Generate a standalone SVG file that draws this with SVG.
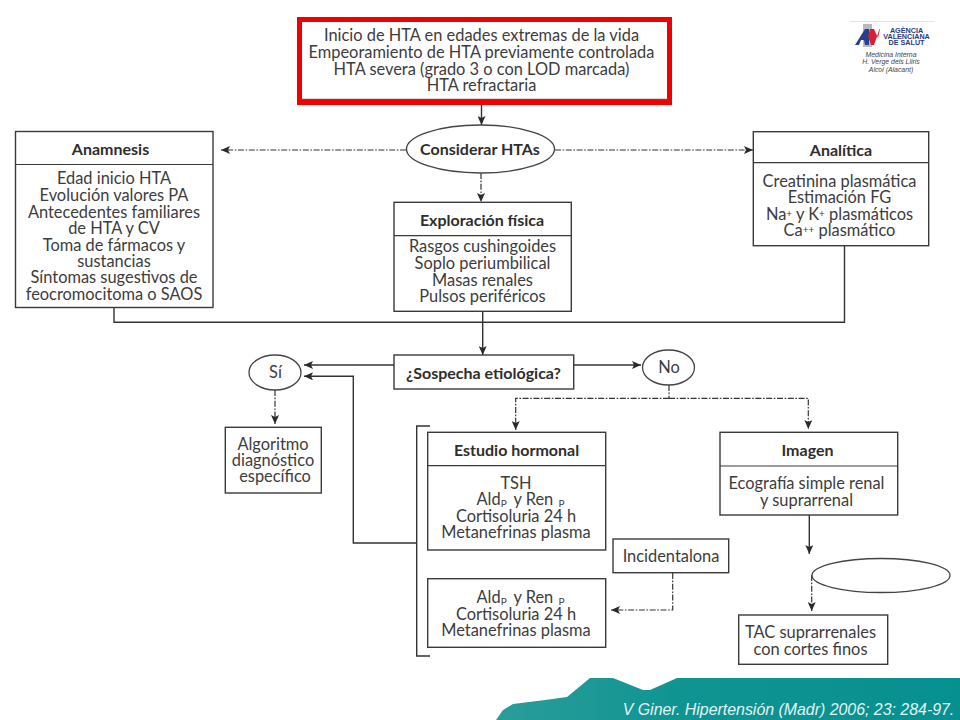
<svg xmlns="http://www.w3.org/2000/svg" width="960" height="720" viewBox="0 0 960 720">
<style>
text{font-family:"Lato","Open Sans","Liberation Sans",sans-serif;font-size:16.4px;fill:#3c3c3c;text-anchor:middle}
.t{font-weight:700;font-size:16px;fill:#2e2e2e}
.box{fill:#fff;stroke:#3a3a3a;stroke-width:1.4}
.div{stroke:#3a3a3a;stroke-width:1.2;fill:none}
.ell{fill:#fff;stroke:#444;stroke-width:1.3}
.solid{fill:none;stroke:#333;stroke-width:1.4}
.arrow{marker-end:url(#ah)}
.dash{fill:none;stroke:#333;stroke-width:1.2;stroke-dasharray:6 1.6 1.6 1.6}
.sub{font-size:10px}
.logo{font-family:"Liberation Sans",sans-serif;font-weight:700;font-size:7.2px;fill:#2a3a80}
.cap{font-family:"Liberation Sans",sans-serif;font-style:italic;font-size:6.9px;fill:#444}
</style>
<defs>
<marker id="ah" markerUnits="userSpaceOnUse" markerWidth="10" markerHeight="8" refX="9" refY="4" orient="auto"><path d="M0 0L9 4L0 8L2 4Z" fill="#2a2a2a"/></marker>
<linearGradient id="teal" x1="0" x2="1" y1="0" y2="0"><stop offset="0" stop-color="#2a9d9a"/><stop offset="0.4" stop-color="#0f9492"/><stop offset="1" stop-color="#079090"/></linearGradient>
</defs>
<rect width="960" height="720" fill="#fff"/>
<g id="footer">
<path d="M496 720L503 710L513 704L545 700L567 697L590 678L613 678L643 690L650 690L677 678L960 678L960 720Z" fill="url(#teal)"/>
<text x="788.5" y="714.5" style="font-family:'Liberation Sans',sans-serif;font-style:italic;font-size:15.9px;fill:#e4f4f3">V Giner. Hipertensión (Madr) 2006; 23: 284-97.</text>
</g>
<g id="connectors">
<path class="solid arrow" d="M481.5 100V125"/>
<path class="dash arrow" d="M406 150H221"/>
<path class="dash arrow" d="M555 150H753"/>
<path class="dash arrow" d="M481 173V202"/>
<path class="solid" d="M114 307V322.3H844.5V245"/>
<path class="solid arrow" d="M482.7 311V355"/>
<path class="solid arrow" d="M394 365H304"/>
<path class="solid arrow" d="M574 365H641"/>
<path class="solid arrow" d="M416.7 543H353.3V376.3H304"/>
<path class="solid" d="M430 426H416.7V656H430"/>
<path class="dash arrow" d="M275 390V424"/>
<path class="dash" d="M669 385V398.3"/>
<path class="dash arrow" d="M669 398.3H515.7V430"/>
<path class="dash arrow" d="M669 398.3H808.3V429"/>
<path class="dash arrow" d="M672.7 573V610H611"/>
<path class="solid arrow" d="M809.3 515V554"/>
<path class="dash arrow" d="M811.7 575V611"/>
</g>
<g id="inicio">
<rect x="299.5" y="19.5" width="370" height="83" fill="none" stroke="#f00000" stroke-width="5"/>
<path d="M302 99.3H668" stroke="#555" stroke-width="1.3"/>
<text x="481.5" y="40.7">Inicio de HTA en edades extremas de la vida</text>
<text x="481.5" y="58">Empeoramiento de HTA previamente controlada</text>
<text x="481.5" y="74.5">HTA severa (grado 3 o con LOD marcada)</text>
<text x="481.5" y="91">HTA refractaria</text>
</g>
<g id="logo">
<path d="M850 21.5H935" stroke="#ddd" stroke-width="0.8"/>
<path d="M863 24H872V47H863Z" fill="#b9b9c4"/>
<path d="M855 45L865 29H869V45H865L864 40H861L859 45Z" fill="#24408e"/>
<path d="M870 29H874L878 38L880 29H879.5L874 45H871L868 36Z" fill="#d8202f"/>
<text class="logo" x="906.5" y="32.5">AGÈNCIA</text>
<text class="logo" x="906.5" y="38.8">VALENCIANA</text>
<text class="logo" x="906.5" y="45">DE SALUT</text>
<text class="cap" x="891" y="56.5">Medicina Interna</text>
<text class="cap" x="891" y="64">H. Verge dels Lliris</text>
<text class="cap" x="891" y="71.5">Alcoi (Alacant)</text>
</g>
<g id="considerar">
<ellipse class="ell" cx="480.5" cy="149" rx="74" ry="24"/>
<text class="t" x="480" y="155">Considerar HTAs</text>
</g>
<g id="anamnesis">
<rect class="box" x="15.5" y="131.5" width="197.5" height="176"/>
<path class="div" d="M15.5 164.5H213"/>
<text class="t" x="110.5" y="155">Anamnesis</text>
<text x="114" y="184">Edad inicio HTA</text>
<text x="114" y="201">Evolución valores PA</text>
<text x="114" y="217.5">Antecedentes familiares</text>
<text x="114" y="234">de HTA y CV</text>
<text x="114" y="250.5">Toma de fármacos y</text>
<text x="114" y="266.7">sustancias</text>
<text x="114" y="283">Síntomas sugestivos de</text>
<text x="114" y="300">feocromocitoma o SAOS</text>
</g>
<g id="analitica">
<rect class="box" x="753.3" y="131.7" width="175.4" height="114"/>
<path class="div" d="M753.3 162.7H928.7"/>
<text class="t" x="841" y="155.5">Analítica</text>
<text x="839.5" y="186.5">Creatinina plasmática</text>
<text x="839.5" y="202.5">Estimación FG</text>
<text x="839.5" y="220">Na<tspan class="sub" dy="-3">+</tspan><tspan dy="3"> y K</tspan><tspan class="sub" dy="-3">+</tspan><tspan dy="3"> plasmáticos</tspan></text>
<text x="839.5" y="236">Ca<tspan class="sub" dy="-3">++</tspan><tspan dy="3"> plasmático</tspan></text>
</g>
<g id="exploracion">
<rect class="box" x="394" y="202.3" width="177.3" height="109"/>
<path class="div" d="M394 235.7H571.3"/>
<text class="t" x="482" y="226">Exploración física</text>
<text x="482.5" y="252">Rasgos cushingoides</text>
<text x="482.5" y="269">Soplo periumbilical</text>
<text x="482.5" y="286">Masas renales</text>
<text x="482.5" y="302">Pulsos periféricos</text>
</g>
<g id="sospecha">
<rect class="box" x="394" y="355" width="179.7" height="34"/>
<text class="t" x="483.5" y="379">¿Sospecha etiológica?</text>
</g>
<g id="si">
<ellipse class="ell" cx="275" cy="372.5" rx="26" ry="17.5"/>
<text x="275.5" y="378">Sí</text>
</g>
<g id="no">
<ellipse class="ell" cx="668.5" cy="367.5" rx="26" ry="17.5"/>
<text x="669" y="373">No</text>
</g>
<g id="algoritmo">
<rect class="box" x="225.3" y="427.3" width="96" height="65.7"/>
<text x="273" y="450">Algoritmo</text>
<text x="273" y="466">diagnóstico</text>
<text x="275" y="482">específico</text>
</g>
<g id="hormonal">
<rect class="box" x="427.7" y="432.3" width="178" height="117.7"/>
<path class="div" d="M427.7 465.7H605.7"/>
<text class="t" x="516.5" y="456">Estudio hormonal</text>
<text x="516" y="488.5">TSH</text>
<text x="520.5" y="505">Ald<tspan class="sub" dy="2">P</tspan><tspan dy="-2" dx="3"> y Ren </tspan><tspan class="sub" dy="2" dx="1">P</tspan></text>
<text x="516" y="521.5">Cortisoluria 24 h</text>
<text x="516" y="538">Metanefrinas plasma</text>
</g>
<g id="hormonal2">
<rect class="box" x="427.7" y="578.7" width="178" height="68.6"/>
<text x="520.5" y="602.7">Ald<tspan class="sub" dy="2">P</tspan><tspan dy="-2" dx="3"> y Ren </tspan><tspan class="sub" dy="2" dx="1">P</tspan></text>
<text x="516" y="619.5">Cortisoluria 24 h</text>
<text x="516" y="636">Metanefrinas plasma</text>
</g>
<g id="incidentaloma">
<rect class="box" x="613" y="539" width="115.7" height="33.7"/>
<text x="671" y="561.7">Incidentalona</text>
</g>
<g id="imagen">
<rect class="box" x="720" y="432.3" width="177.7" height="82.7"/>
<path class="div" d="M720 466H897.7"/>
<text class="t" x="807.5" y="456">Imagen</text>
<text x="806.5" y="488.5">Ecografía simple renal</text>
<text x="806.5" y="505.5">y suprarrenal</text>
</g>
<g id="blanco">
<ellipse class="ell" cx="881" cy="575.5" rx="69" ry="17"/>
</g>
<g id="tac">
<rect class="box" x="738.7" y="615" width="149" height="49.3"/>
<text x="810.5" y="638">TAC suprarrenales</text>
<text x="810.5" y="655">con cortes finos</text>
</g>
</svg>
